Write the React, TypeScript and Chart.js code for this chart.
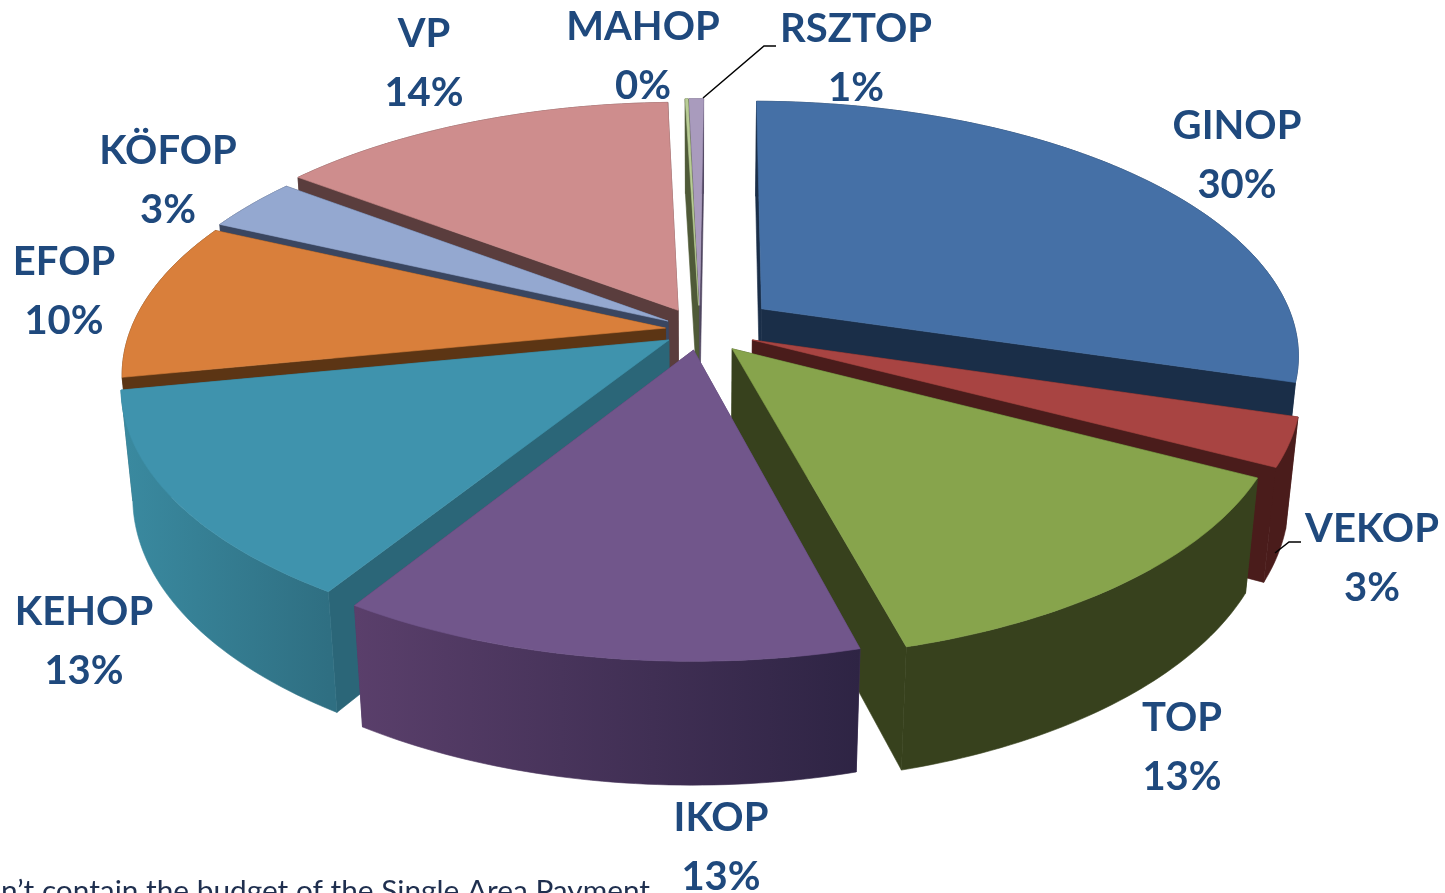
import React, { useEffect, useRef } from "react";
import { Chart, registerables } from "chart.js";

Chart.register(...registerables);

const categories = ["GINOP", "VEKOP", "TOP", "IKOP", "KEHOP", "EFOP", "KÖFOP", "VP", "MAHOP", "RSZTOP"];
const shares = [29.52, 3.0, 13.2, 13.05, 13.03, 9.95, 3.4, 14.23, 0.1, 0.52];
const explosion = [14.5, 10.5, 9.5, 8, 7, 6.5, 7, 9, 10, 10];

const topColors = ["#4570A6", "#A84442", "#87A44C", "#71568B", "#3F93AD", "#D97F3B", "#94A8D0", "#CE8D8D", "#B9CD96", "#A99BBD"];
const cutColors = ["#1A2E48", "#4A1C1B", "#37411D", "#503A66", "#2B6678", "#5C3514", "#3A4660", "#5A3D3D", "#4F5A38", "#4F4560"];
const wallLeft = ["#1A2E48", "#4A1C1B", "#37411D", "#5A3F6B", "#3A8AA0", "#5C3514", "#3A4660", "#5A3D3D", "#4F5A38", "#4F4560"];
const wallRight = ["#1A2E48", "#4A1C1B", "#37411D", "#2E2444", "#2F6F82", "#5C3514", "#3A4660", "#5A3D3D", "#4F5A38", "#4F4560"];

const paintOrder = [0, 9, 8, 7, 6, 5, 1, 4, 2, 3];

const labelAnchors = [
  [1237, 126, 185], [1372, 529, 588], [1182, 718, 777], [721, 818, 877], [84, 612, 671],
  [64, 262, 321], [168, 151, 210], [424, 34, 93], [643, 27, 86], [856, 29, 88],
];
const leaders = [
  [[1301, 542], [1289, 542], [1275, 553]],
  [[776, 46], [764, 46], [703, 98]],
];
const footnote = "doesn’t contain the budget of the Single Area Payment";

const view = { cx: 700, cy: 330, rx: 535, ry: 250, p: 0.172, d: 110, q: 0.02 };

function project(u: number, v: number, z: number): [number, number] {
  const w = 1 - view.p * v + view.q * z;
  return [view.cx + (view.rx * u) / w, view.cy + (view.ry * v + view.d * z) / w];
}

function fillPoly(ctx: CanvasRenderingContext2D, pts: [number, number][], fill: string | CanvasGradient) {
  ctx.beginPath();
  pts.forEach((p, i) => (i ? ctx.lineTo(p[0], p[1]) : ctx.moveTo(p[0], p[1])));
  ctx.closePath();
  ctx.fillStyle = fill;
  ctx.strokeStyle = fill;
  ctx.lineWidth = 0.6;
  ctx.fill();
  ctx.stroke();
}

const pie3d = {
  id: "pie3d",
  beforeDatasetsDraw(chart: any) {
    const ctx: CanvasRenderingContext2D = chart.ctx;
    const arcs = chart.getDatasetMeta(0).data;
    for (const i of paintOrder) {
      const arc = arcs[i];
      const { startAngle, endAngle } = arc.getProps(["startAngle", "endAngle"], true);
      const mid = (startAngle + endAngle) / 2;
      const off = arc.options.offset / 100;
      const ou = Math.cos(mid) * off;
      const ov = Math.sin(mid) * off;
      const steps = Math.max(2, Math.ceil(((endAngle - startAngle) * 180) / Math.PI));
      const rim: [number, number][] = [];
      for (let s = 0; s <= steps; s++) {
        const a = startAngle + ((endAngle - startAngle) * s) / steps;
        rim.push([ou + Math.cos(a), ov + Math.sin(a)]);
      }
      const P = (q: [number, number], z: number) => project(q[0], q[1], z);
      const apex: [number, number] = [ou, ov];
      const first = rim[0];
      const last = rim[rim.length - 1];
      const xs = rim.map((q) => P(q, 0)[0]);
      const grad = ctx.createLinearGradient(Math.min(...xs), 0, Math.max(...xs), 0);
      grad.addColorStop(0, wallLeft[i]);
      grad.addColorStop(1, wallRight[i]);
      const faces = [
        { v: (apex[1] + first[1]) / 2, pts: [P(apex, 0), P(first, 0), P(first, 1), P(apex, 1)], fill: cutColors[i] as string | CanvasGradient },
        { v: (apex[1] + last[1]) / 2, pts: [P(apex, 0), P(last, 0), P(last, 1), P(apex, 1)], fill: cutColors[i] as string | CanvasGradient },
        { v: Math.sin(mid) + ov, pts: [...rim.map((q) => P(q, 0)), ...rim.slice().reverse().map((q) => P(q, 1))], fill: grad as string | CanvasGradient },
      ].sort((a, b) => a.v - b.v);
      faces.forEach((f) => fillPoly(ctx, f.pts, f.fill));
      fillPoly(ctx, [P(apex, 0), ...rim.map((q) => P(q, 0))], topColors[i]);
    }
    return false;
  },
  afterDraw(chart: any) {
    const ctx: CanvasRenderingContext2D = chart.ctx;
    const data: number[] = chart.data.datasets[0].data;
    const total = data.reduce((a, b) => a + b, 0);
    ctx.save();
    ctx.strokeStyle = "#000000";
    ctx.lineWidth = 1.5;
    leaders.forEach((l) => {
      ctx.beginPath();
      l.forEach((p, i) => (i ? ctx.lineTo(p[0], p[1]) : ctx.moveTo(p[0], p[1])));
      ctx.stroke();
    });
    ctx.textAlign = "center";
    ctx.textBaseline = "middle";
    ctx.fillStyle = "#1F497D";
    ctx.font = "bold 40px Lato";
    chart.data.labels.forEach((name: string, i: number) => {
      const [x, y1, y2] = labelAnchors[i];
      ctx.fillText(name, x, y1);
      ctx.fillText(`${Math.round((data[i] / total) * 100)}%`, x, y2);
    });
    ctx.textAlign = "right";
    ctx.textBaseline = "alphabetic";
    ctx.fillStyle = "#1F2F4F";
    ctx.font = "29.8px Lato";
    ctx.fillText(footnote, 650, 901);
    ctx.restore();
  },
};

export default function App() {
  const ref = useRef<HTMLCanvasElement>(null);
  useEffect(() => {
    document.body.style.margin = "0";
    document.body.style.overflow = "hidden";
    const chart = new Chart(ref.current!, {
      type: "pie",
      data: {
        labels: categories,
        datasets: [{ data: shares, backgroundColor: topColors, offset: explosion, borderWidth: 0 }],
      },
      options: {
        responsive: false,
        animation: false,
        rotation: 0.5,
        events: [],
        plugins: { legend: { display: false }, tooltip: { enabled: false } },
      },
      plugins: [pie3d],
    } as any);
    return () => chart.destroy();
  }, []);
  return <canvas ref={ref} width={1445} height={893} style={{ display: "block" }} />;
}
